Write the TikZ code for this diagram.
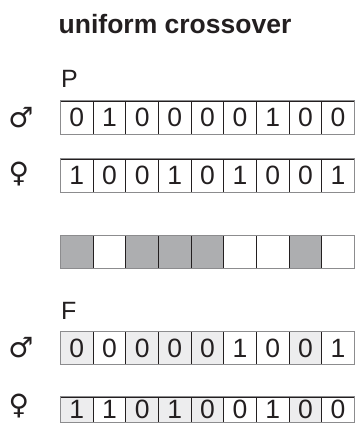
\documentclass[tikz,border=0pt]{standalone}
\usepackage{fontspec}
\setmainfont{Liberation Sans}
\newfontfamily\sexfont{DejaVu Sans}
\definecolor{ink}{HTML}{231F20}
\definecolor{framegray}{HTML}{8C8C8E}
\definecolor{maskgray}{HTML}{ADAEB0}
\definecolor{shadegray}{HTML}{EDEDEE}

\begin{document}
\begin{tikzpicture}[x=1pt, y=-1pt,
    every node/.style={text=ink},
    cell/.style={draw=ink, line width=0.7pt, minimum width=32.65pt, minimum height=33pt,
        inner sep=0pt, font=\fontsize{26.5}{26.5}\selectfont},
    lowcell/.style={cell, minimum height=25pt},
    gen/.style={font=\fontsize{25}{25}\selectfont, anchor=base west, inner sep=0pt},
    sex/.style={font=\sexfont\fontsize{28}{28}\selectfont, inner sep=0pt},
    rim/.style={draw=framegray, line width=1pt},
]
\def\X#1{60.5 + (#1-0.5)*32.65}

\useasboundingbox (0,0) rectangle (355,423);

\node[font=\bfseries\fontsize{26.5}{26.5}\selectfont, anchor=base west, inner sep=0pt]
    (title) at (58.5,33) {uniform crossover};

% parents
\node[gen] (P) at (61,87) {P};
\node[sex] (pmale) at (21,118) {♂};
\foreach \b [count=\i] in {0,1,0,0,0,0,1,0,0}
    \node[cell] (pm\i) at ({\X{\i}}, 117.5) {\b};
\draw[rim] (pm1.north west) rectangle (pm9.south east);

\node[sex] (pfemale) at (19,174) {♀};
\foreach \b [count=\i] in {1,0,0,1,0,1,0,0,1}
    \node[cell] (pf\i) at ({\X{\i}}, 175.5) {\b};
\draw[rim] (pf1.north west) rectangle (pf9.south east);

% mask
\foreach \c [count=\i] in {maskgray,white,maskgray,maskgray,maskgray,white,white,maskgray,white}
    \node[cell, fill=\c] (mk\i) at ({\X{\i}}, 252) {};
\draw[rim] (mk1.north west) rectangle (mk9.south east);

% offspring
\node[gen] (F) at (61,319) {F};
\node[sex] (fmale) at (21,348) {♂};
\foreach \b/\c [count=\i] in {0/shadegray,0/white,0/shadegray,0/shadegray,0/shadegray,1/white,0/white,0/shadegray,1/white}
    \node[cell, fill=\c] (fm\i) at ({\X{\i}}, 348) {\b};
\draw[rim] (fm1.north west) rectangle (fm9.south east);

\node[sex] (ffemale) at (19,406) {♀};
\foreach \b/\c [count=\i] in {1/shadegray,1/white,0/shadegray,1/shadegray,0/shadegray,0/white,1/white,0/shadegray,0/white}
    \node[lowcell, fill=\c] (ff\i) at ({\X{\i}}, 409.5) {\b};
\draw[rim] (ff1.north west) rectangle (ff9.south east);
\end{tikzpicture}
\end{document}
